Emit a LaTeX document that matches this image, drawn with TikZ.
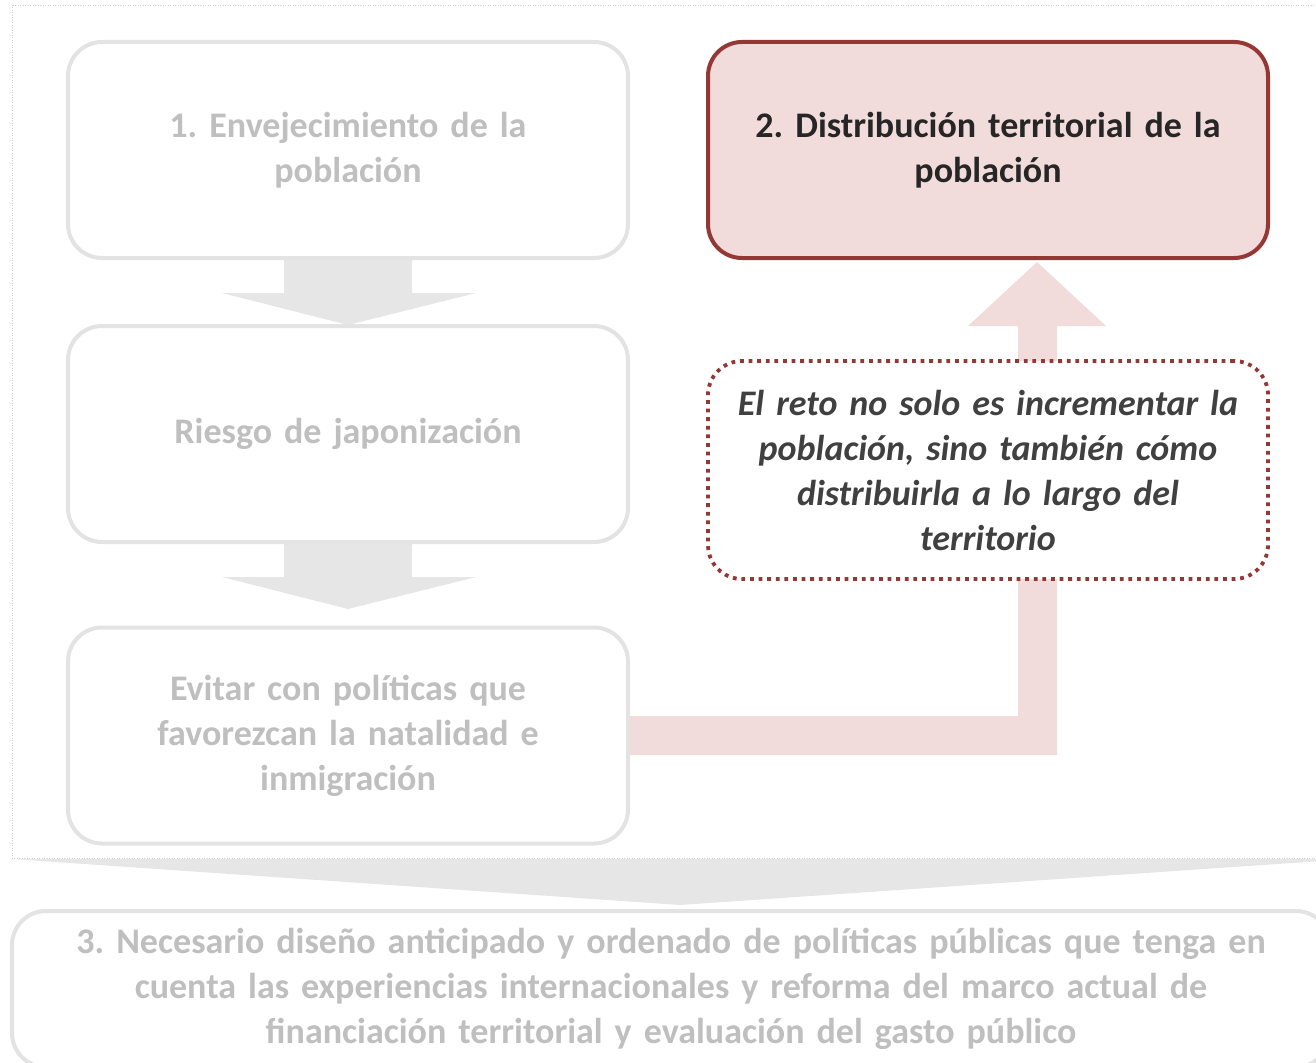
\documentclass[tikz,border=0pt]{standalone}
\usepackage{fontspec}
\setmainfont{Carlito}
\usetikzlibrary{calc,backgrounds}
\definecolor{boxgray}{HTML}{E3E3E3}
\definecolor{txtgray}{HTML}{BFBFBF}
\definecolor{arrgray}{HTML}{E6E6E6}
\definecolor{pinkfill}{HTML}{F2DCDB}
\definecolor{darkred}{HTML}{953735}
\definecolor{darktxt}{HTML}{262626}
\definecolor{calltxt}{HTML}{404040}
\definecolor{framegray}{HTML}{D0D0D0}
\begin{document}
\frenchspacing
\begin{tikzpicture}[x=1pt,y=-1pt,
  basebox/.style={rounded corners=34pt, line width=4pt, minimum width=560pt, minimum height=216pt,
    text width=545pt, align=center, inner sep=0pt, outer sep=0pt,
    font=\fontsize{36}{45}\selectfont\bfseries},
  greybox/.style={basebox, draw=boxgray, fill=white, text=txtgray},
  redbox/.style={basebox, draw=darkred, fill=pinkfill, text=darktxt},
  callbox/.style={basebox, draw=darkred, fill=white, text=calltxt, minimum height=218pt,
    line width=3.8pt, dash pattern=on 3.8pt off 4.8pt,
    font=\fontsize{36}{45}\selectfont\bfseries\itshape},
  widebox/.style={basebox, draw=boxgray, fill=white, text=txtgray, minimum width=1318pt,
    minimum height=156pt, text width=1280pt},
  grayarrow/.style={fill=arrgray},
  pinkarrow/.style={fill=pinkfill},
]
\useasboundingbox (0,0) rectangle (1316,1062);
% outer dotted frame
\draw[framegray, line width=0.8pt, dash pattern=on 1pt off 1.5pt] (12,5) rectangle (1330,858);

\node[greybox] (b1) at (348,150) {1. Envejecimiento de la\\población};
\node[greybox] (b2) at (348,434) {Riesgo de japonización};
\node[greybox] (b3) at (348,735.5) {Evitar con políticas que\\favorezcan la natalidad e\\inmigración};
\node[redbox] (red) at (988,150) {2. Distribución territorial de la\\población};
\coordinate (tip) at ($(red.south)+(49,4)$);

\begin{scope}[on background layer]
  \fill[grayarrow] ($(b1.south)+(-64,-4)$) -- ++(128,0) -- ++(0,39) -- ++(64,0)
     -- ($(b2.north)+(0,-1)$) -- ++(-126,-32) -- ++(62,0) -- cycle;
  \fill[grayarrow] ($(b2.south)+(-64,-4)$) -- ++(128,0) -- ++(0,39) -- ++(64,0)
     -- ($(b2.south)+(0,67)$) -- ++(-126,-32) -- ++(62,0) -- cycle;
  \fill[pinkarrow] ($(b3.east)+(0,-19.5)$) -- ($(tip)+(-19,454)$) -- ($(tip)+(-19,64)$)
     -- ($(tip)+(-69,64)$) -- (tip) -- ($(tip)+(69,64)$) -- ($(tip)+(20,64)$)
     -- ($(tip)+(20,493)$) -- ($(b3.east)+(0,19.5)$) -- cycle;
\end{scope}

\node[callbox] (call) at (988,470) {El reto no solo es incrementar la\\población, sino también cómo\\distribuirla a lo largo del\\territorio};

\node[widebox] (b4) at (671,989) {3. Necesario diseño anticipado y ordenado de políticas públicas que tenga en\\cuenta las experiencias internacionales y reforma del marco actual de\\financiación territorial y evaluación del gasto público};
\coordinate (bigtip) at (680,905);
\fill[grayarrow] (12,859) -- (1350,859) -- (bigtip) -- cycle;
\end{tikzpicture}
\end{document}
